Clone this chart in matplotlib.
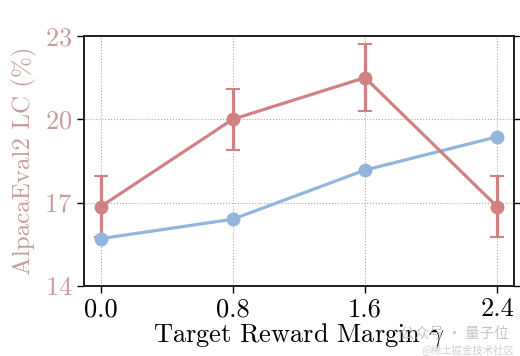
import matplotlib

matplotlib.use("Agg")
import matplotlib.pyplot as plt

gamma = [0.0, 0.8, 1.6, 2.4]
lc_red = [16.85, 20.0, 21.5, 16.85]
lc_red_err = [1.1, 1.1, 1.2, 1.1]
lc_blue = [15.7, 16.4, 18.17, 19.37]
y_ticks = [14, 17, 20, 23]

plt.rcParams["font.family"] = ["cmr10", "DejaVu Serif"]
plt.rcParams["mathtext.fontset"] = "cm"
plt.rcParams["axes.formatter.use_mathtext"] = True

red = "#D08282"
blue = "#93B5DD"
label_pink = "#C99C9C"

fig = plt.figure(figsize=(5.2, 3.56), dpi=100)
ax = fig.add_axes([0.1615, 0.197, 0.8265, 0.702])

ax.errorbar(gamma, lc_red, yerr=lc_red_err, color=red, lw=2.3, marker="o",
            markersize=9, capsize=5, elinewidth=2.3, capthick=1.5, zorder=3)
ax.plot(gamma, lc_blue, color=blue, lw=2.3, marker="o", markersize=9, zorder=3)

ax.set_xlim(-0.1, 2.5)
ax.set_ylim(14, 23)
ax.set_xticks(gamma)
ax.set_xticklabels([f"{g:.1f}" for g in gamma])
ax.set_yticks(y_ticks)
ax.tick_params(axis="x", labelsize=19, length=5, width=1)
ax.tick_params(axis="y", labelsize=19, length=5, width=1, labelcolor=label_pink)
ax.grid(True, linestyle=":", color="#aaaaaa", lw=0.8)

ax_r = ax.twinx()
ax_r.set_ylim(14, 23)
ax_r.set_yticks(y_ticks)
ax_r.set_yticklabels([])
ax_r.tick_params(axis="y", length=5, width=1)

for a in (ax, ax_r):
    for s in a.spines.values():
        s.set_linewidth(1.3)
        s.set_color("#222222")

ax.set_ylabel("AlpacaEval2 LC (%)", fontsize=18, color=label_pink, labelpad=5)
ax.set_xlabel(r"Target Reward Margin $\gamma$", fontsize=19, labelpad=0)

fig.text(0.77, 0.05, "公众号 · 量子位", fontsize=10.5, color="#bbbbbb",
         family=["Noto Sans CJK SC", "DejaVu Sans"], alpha=0.85)
fig.text(0.81, 0.008, "@稀土掘金技术社区", fontsize=7.5, color="#c8c8c8",
         family=["Noto Sans CJK SC", "DejaVu Sans"], alpha=0.85)

fig.savefig("out.png", dpi=100)
plt.close(fig)
